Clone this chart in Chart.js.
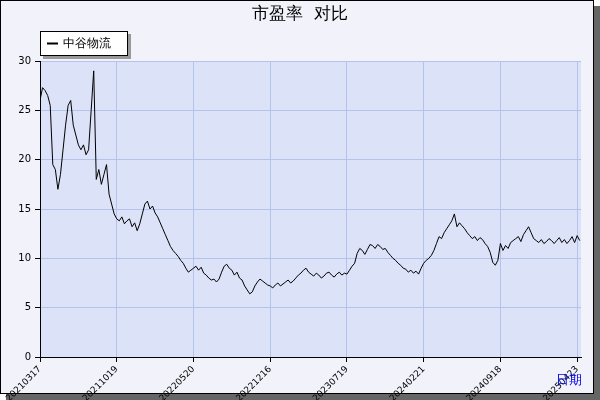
<!DOCTYPE html>
<html><head><meta charset="utf-8">
<script src="https://cdn.jsdelivr.net/npm/chart.js@4"></script>
<style>html,body{margin:0;padding:0;background:#fff}#w{position:relative;width:600px;height:400px}</style>
</head><body><div id="w"><canvas id="c" width="600" height="400"></canvas></div>
<script>
const seriesName = "中谷物流";
const tickLabels = ["20210317","20211019","20220520","20221216","20230719","20240221","20240918","20250423"];
const peSeg1 = [26,27.3,27,26.5,25.5,19.5,19,17,18.5,21,23.5,25.5,26,23.5,22.5,21.5,21,21.5,20.5,21,25,29,18,19,17.5,18.5,19.5,16.5,15.5,14.5];
const peSeg2 = [14,13.8,14.2,13.5,13.8,14,13.2,13.6,12.8,13.5,14.5,15.5,15.8,15,15.3,14.6,14.2,13.6,13,12.4,11.8,11.2,10.8,10.5,10.2,9.8,9.5,9,8.6,8.8];
const peSeg3 = [9,9.2,8.8,9.1,8.5,8.3,8,7.8,7.9,7.6,7.9,8.6,9.2,9.4,9,8.8,8.3,8.6,8.0,7.8,7.2,6.8,6.4,6.6,7.2,7.6,7.9,7.7,7.5,7.3];
const peSeg4 = [7.2,7.0,7.3,7.5,7.2,7.4,7.6,7.8,7.5,7.7,8.0,8.3,8.5,8.8,9.0,8.6,8.4,8.2,8.5,8.3,8.0,8.2,8.5,8.6,8.3,8.1,8.4,8.6,8.3,8.5];
const peSeg5 = [8.4,8.8,9.2,9.5,10.5,11,10.8,10.4,10.9,11.4,11.3,11.0,11.4,11.2,10.9,11.0,10.6,10.3,10.0,9.8,9.5,9.3,9.0,8.9,8.6,8.8,8.5,8.7,8.4,9.0];
const peSeg6 = [9.5,9.8,10.0,10.3,10.8,11.5,12.2,12.0,12.6,13.0,13.4,13.8,14.5,13.2,13.6,13.3,13.0,12.6,12.3,12.0,12.2,11.8,12.1,11.9,11.5,11.2,10.6,9.6,9.3,9.8];
const peSeg7 = [11.5,10.8,11.3,11.0,11.6,11.8,12.0,12.2,11.7,12.4,12.8,13.2,12.6,12.0,11.8,11.6,11.9,11.5,11.7,12.0,11.8,11.5,11.8,12.1,11.6,11.9,11.5,11.8,12.2,11.6,12.3,11.8];
const peValues = [].concat(peSeg1,peSeg2,peSeg3,peSeg4,peSeg5,peSeg6,peSeg7);
const pointsPerTick = 30;
const points = peValues.map((v,i)=>({x:i,y:v}));
const FONT = "'DejaVu Sans', sans-serif";

const deco = {
  id:'deco',
  beforeDraw(ch){
    const c=ch.ctx; c.save();
    c.fillStyle='#666'; c.fillRect(6,6,594,394);
    c.fillStyle='#f2f3fa'; c.fillRect(0,0,594,394);
    c.strokeStyle='#000'; c.lineWidth=1; c.strokeRect(0.5,0.5,593,393);
    const a=ch.chartArea; c.fillStyle='#dce2f7'; c.fillRect(a.left,a.top,a.right-a.left,a.bottom-a.top);
    c.restore();
  },
  afterDraw(ch){
    const c=ch.ctx; c.save();
    c.fillStyle='#000'; c.font="17px "+FONT; c.textAlign='center'; c.textBaseline='middle';
    c.fillText('市盈率  对比',300,15);
    c.fillStyle='#999'; c.fillRect(43,34,88,25);
    c.fillStyle='#fff'; c.fillRect(40,31,88,25);
    c.strokeStyle='#000'; c.strokeRect(40.5,31.5,87,24);
    c.beginPath(); c.moveTo(47,43.5); c.lineTo(58,43.5); c.lineWidth=2; c.stroke();
    c.fillStyle='#000'; c.font="12px "+FONT; c.textAlign='left'; c.fillText(seriesName,63,44);
    c.fillStyle='#0000ee'; c.font="13px "+FONT; c.fillText('日期',556,381);
    c.restore();
  }
};

new Chart(document.getElementById('c'),{
  type:'line',
  data:{datasets:[{data:points,borderColor:'#000',borderWidth:1,pointRadius:0,tension:0,fill:false}]},
  options:{
    responsive:false,animation:false,
    layout:{padding:{top:61,right:19,left:0,bottom:0}},
    plugins:{legend:{display:false},tooltip:{enabled:false}},
    scales:{
      x:{type:'linear',min:0,max:peValues.length-0.5,
        afterFit(s){s.height=43;},
        afterBuildTicks(s){s.ticks=tickLabels.map((_,i)=>({value:i*pointsPerTick}));},
        ticks:{autoSkip:false,minRotation:45,maxRotation:45,color:'#000',font:{size:9,family:FONT},padding:2,
          callback(v){return tickLabels[Math.round(v/pointsPerTick)]||'';}},
        grid:{color:'#b4c3eb',tickColor:'#000',tickLength:5,drawOnChartArea:true},
        border:{color:'#000',width:1}},
      y:{min:0,max:30,
        afterFit(s){s.width=40;},
        ticks:{stepSize:5,color:'#000',font:{size:10,family:FONT},padding:4},
        grid:{color:'#b4c3eb',tickColor:'#000',tickLength:5},
        border:{color:'#000',width:1}}
    }
  },
  plugins:[deco]
});
</script></body></html>
